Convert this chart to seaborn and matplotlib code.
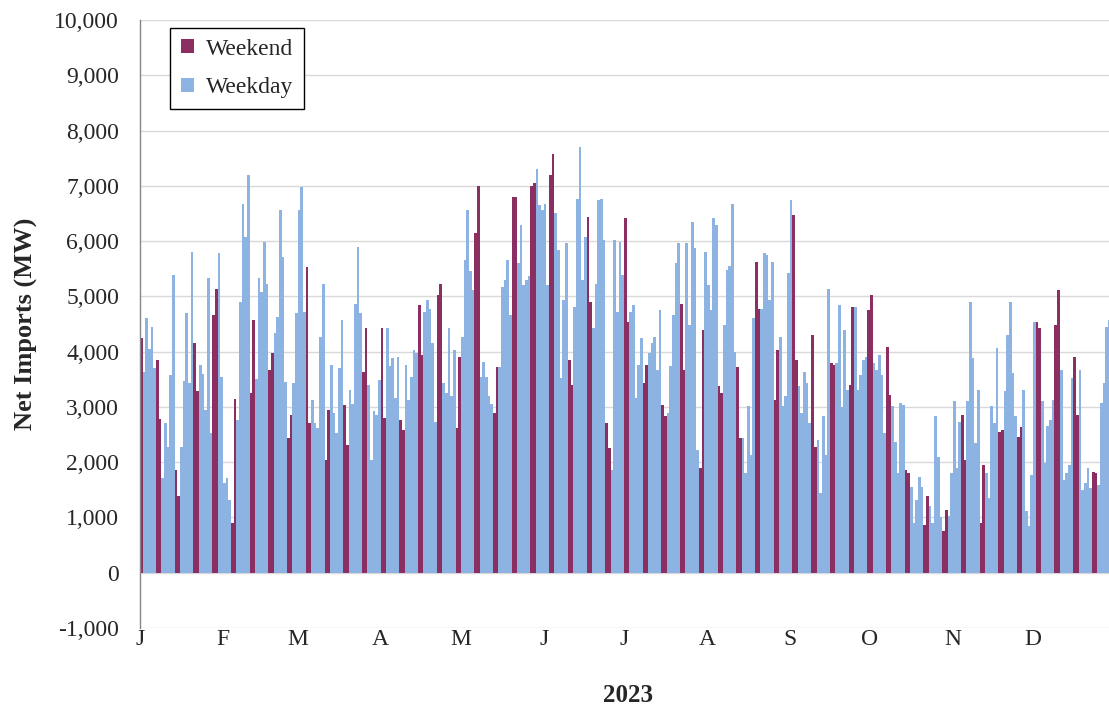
import numpy as np
import pandas as pd
import seaborn as sns
import matplotlib.pyplot as plt
from matplotlib.ticker import FuncFormatter

# Daily net imports (MW) for 2023.
# Jan 1 is a Sunday, after it the year runs as 52 Mon-Sun weeks.
jan1_mw = 4250

# Mon..Fri of each week
weekday_mw = [
    3640, 4600, 4050, 4450, 3700,
    1710, 2700, 2280, 3580, 5390,
    2280, 3460, 4700, 3440, 5800,
    3760, 3600, 2950, 5330, 2520,
    5780, 3550, 1620, 1710, 1320,
    2770, 4900, 6680, 6080, 7190,
    3500, 5330, 5080, 5980, 5230,
    4330, 4630, 6560, 5720, 3450,
    3430, 4700, 6560, 6980, 4720,
    3130, 2700, 2610, 4270, 5230,
    3760, 2890, 2520, 3700, 4570,
    3300, 3060, 4870, 5900, 4690,
    3400, 2040, 2920, 2860, 3490,
    4420, 3740, 3880, 3160, 3910,
    3760, 3130, 3550, 4030, 3970,
    4720, 4930, 4780, 4150, 2730,
    3430, 3250, 4420, 3190, 4030,
    4270, 5660, 6560, 5450, 5110,
    3550, 3820, 3550, 3190, 3050,
    3730, 5170, 5300, 5660, 4660,
    5600, 6290, 5200, 5300, 5360,
    7310, 6650, 6560, 6680, 5200,
    6500, 5840, 3520, 4930, 5960,
    4810, 6770, 7700, 5300, 6080,
    4420, 5230, 6740, 6770, 6020,
    1860, 6020, 4720, 5990, 5390,
    4720, 4840, 3160, 3760, 4240,
    3970, 4150, 4270, 3670, 4750,
    2890, 3740, 4660, 5600, 5960,
    5960, 4480, 6350, 5870, 2220,
    5800, 5200, 4750, 6410, 6290,
    4480, 5480, 5550, 6680, 4000,
    2430, 1800, 3010, 2130, 4600,
    4780, 5780, 5750, 4930, 5630,
    4270, 3010, 3190, 5420, 6740,
    3370, 2890, 3640, 3430, 2700,
    2400, 1440, 2830, 2130, 5140,
    3800, 4840, 2990, 4390, 3300,
    4810, 3300, 3580, 3850, 3900,
    3790, 3670, 3940, 3580, 2520,
    3010, 2370, 1800, 3070, 3040,
    1560, 900, 1320, 1740, 1560,
    1200, 900, 2830, 2100, 1000,
    1020, 1800, 3100, 1890, 2730,
    3100, 4900, 3880, 2340, 3300,
    1800, 1350, 3010, 2700, 4060,
    3280, 4300, 4900, 3610, 2830,
    3300, 1110, 840, 1770, 4540,
    3100, 1980, 2650, 2760, 3130,
    3670, 1680, 1800, 1950, 3520,
    3670, 1500, 1620, 1890, 1530,
    1590, 3070, 3430, 4450, 4570,
]

# Sat, Sun of each week (the last weekend, Dec 30-31, is cut off by the frame)
weekend_mw = [
    3850, 2780, 1860, 1380, 4150, 3280, 4660, 5130, 900, 3150,
    3250, 4570, 3670, 3970, 2430, 2860, 5540, 2700, 2040, 2950,
    3040, 2310, 3640, 4420, 4420, 2800, 2770, 2580, 4840, 3940,
    5020, 5230, 2610, 3910, 6140, 7000, 2890, 3730, 6800, 6790,
    7000, 7050, 7190, 7580, 3850, 3400, 6440, 4900, 2700, 2250,
    6410, 4540, 3430, 3760, 3040, 2830, 4870, 3670, 1890, 4390,
    3370, 3250, 3730, 2430, 5630, 4780, 3130, 4030, 6470, 3850,
    4300, 2280, 3790, 3750, 3400, 4810, 4750, 5020, 4090, 3220,
    1860, 1800, 870, 1380, 750, 1140, 2860, 2040, 900, 1950,
    2550, 2580, 2460, 2640, 4540, 4420, 4480, 5110, 3910, 2850,
    1830, 1800,
]

month_labels = ["J", "F", "M", "A", "M", "J", "J", "A", "S", "O", "N", "D"]

dates = pd.date_range("2023-01-01", "2023-12-31", freq="D")
is_weekend = dates.dayofweek >= 5

mw = np.full(len(dates), np.nan)
mw[~is_weekend] = weekday_mw
weekend_vals = [jan1_mw] + weekend_mw
mw[np.flatnonzero(is_weekend)[:len(weekend_vals)]] = weekend_vals

df = pd.DataFrame({
    "day": np.arange(len(dates)),
    "mw": mw,
    "kind": np.where(is_weekend, "Weekend", "Weekday"),
})

sns.set_theme(style="white")
plt.rcParams["font.family"] = ["Liberation Serif", "DejaVu Serif"]

fig = plt.figure(figsize=(11.09, 7.09), dpi=100)
# plot area runs a little past the right edge of the picture, like the original
ax = fig.add_axes([140 / 1109, 81 / 709, 976 / 1109, 608 / 709])

sns.barplot(data=df, x="day", y="mw", hue="kind", order=list(range(len(dates))),
            hue_order=["Weekend", "Weekday"],
            palette={"Weekend": "#8B2F62", "Weekday": "#8DB3E2"},
            saturation=1, dodge=False, width=1.0, errorbar=None, linewidth=0, ax=ax)

ax.set_xlim(-0.5, len(dates) - 0.5)
ax.set_ylim(-1000, 10000)
ax.set_yticks(range(-1000, 10001, 1000))
ax.yaxis.set_major_formatter(FuncFormatter(lambda v, _: f"{v:,.0f}"))

month_starts = [d.dayofyear - 1.5 for d in pd.date_range("2023-01-01", periods=12, freq="MS")]
ax.set_xticks(month_starts)
ax.set_xticklabels(month_labels)

ax.tick_params(axis="y", length=0, pad=15, labelsize=17)
ax.tick_params(axis="x", length=0, pad=1, labelsize=17)

ax.yaxis.grid(True, color="#D9D9D9", linewidth=1)
ax.set_axisbelow(True)
for side in ["top", "right", "bottom"]:
    ax.spines[side].set_visible(False)
ax.spines["left"].set_color("#868686")
ax.spines["left"].set_linewidth(1)

ax.set_ylabel("Net Imports (MW)", fontsize=19, fontweight="bold")
ax.set_xlabel("2023", fontsize=18, fontweight="bold")
ax.yaxis.set_label_coords(-0.105, 0.5)
ax.xaxis.set_label_coords(0.5, -0.092)

handles, labels = ax.get_legend_handles_labels()
leg = ax.legend(handles, labels, loc="upper left", bbox_to_anchor=(0.031, 0.987),
                borderaxespad=0, frameon=True, fancybox=False, edgecolor="black",
                framealpha=1, handlelength=0.55, handleheight=0.55, handletextpad=0.5,
                labelspacing=0.75, borderpad=0.45, fontsize=17)
leg.get_frame().set_linewidth(1.0)

fig.savefig("out.png", dpi=100)
